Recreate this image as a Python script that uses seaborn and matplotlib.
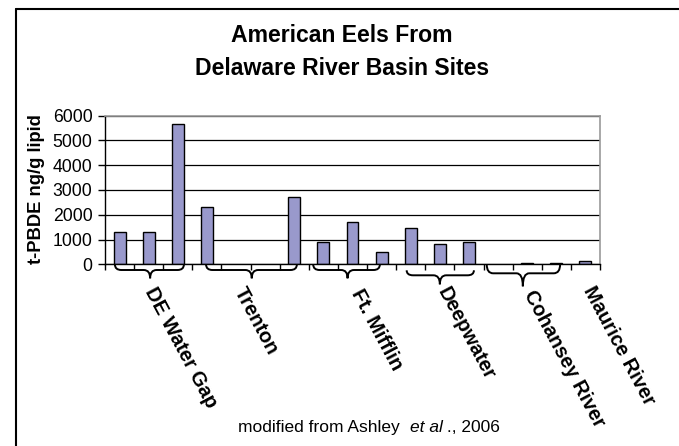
import matplotlib
matplotlib.use("Agg")
import matplotlib.pyplot as plt
import matplotlib.transforms as mtransforms
from matplotlib.path import Path
from matplotlib.patches import PathPatch
from matplotlib.lines import Line2D
import seaborn as sns
import pandas as pd

# ---------------- data ----------------
samples = ["DWG1", "DWG2", "DWG3", "TR1", "TR2", "TR3", "TR4",
           "FM1", "FM2", "FM3", "DW1", "DW2", "DW3",
           "CR1", "CR2", "CR3", "MR1"]
present = ["DWG1", "DWG2", "DWG3", "TR1", "TR4", "FM1", "FM2", "FM3",
           "DW1", "DW2", "DW3", "CR2", "CR3", "MR1"]
values = [1300, 1300, 5650, 2300, 2700, 900, 1700, 480,
          1480, 830, 890, 60, 60, 120]
groups = ["DE Water Gap", "Trenton", "Ft. Mifflin", "Deepwater",
          "Cohansey River", "Maurice River"]
yticks = [0, 1000, 2000, 3000, 4000, 5000, 6000]

title_lines = ["American Eels From", "Delaware River Basin Sites"]
ylabel = "t-PBDE ng/g lipid"

df = pd.DataFrame({"sample": present, "value": values})

# ---------------- style ----------------
sns.set_style("white")
plt.rcParams["font.family"] = ["Liberation Sans", "DejaVu Sans"]
for k in ["text.color", "axes.labelcolor", "xtick.color", "ytick.color"]:
    plt.rcParams[k] = "black"

W, H = 679, 446
fig = plt.figure(figsize=(W / 100, H / 100), dpi=100)
ax_l, ax_r, ax_t, ax_b = 105, 600, 115.7, 264.3
ax = fig.add_axes([ax_l / W, 1 - ax_b / H, (ax_r - ax_l) / W, (ax_b - ax_t) / H])

sns.barplot(data=df, x="sample", y="value", order=samples, color="#9999CC",
            saturation=1, edgecolor="black", linewidth=1.0, width=0.41,
            errorbar=None, ax=ax)

ax.set_xlim(-0.5, len(samples) - 0.5)
ax.set_ylim(yticks[0], yticks[-1])
ax.set_yticks(yticks)
ax.set_yticklabels([str(v) for v in yticks], fontsize=12.7)
ax.set_xticks([i - 0.5 for i in range(len(samples) + 1)])
ax.set_xticklabels([])
ax.set_xlabel("")
ax.set_ylabel("")
ax.tick_params(axis="y", direction="out", length=5, width=1, color="black", pad=4, left=True)
ax.tick_params(axis="x", direction="out", length=4.5, width=1, color="black", bottom=True)
ax.yaxis.grid(True, color="black", linewidth=0.9)
ax.set_axisbelow(True)
for s in ["left", "bottom"]:
    ax.spines[s].set_color("black")
    ax.spines[s].set_linewidth(1.0)
for s in ["top", "right"]:
    ax.spines[s].set_color("#999999")
    ax.spines[s].set_linewidth(1.2)

# ---------------- braces ----------------
axh = ax_b - ax_t
trans = mtransforms.blended_transform_factory(ax.transData, ax.transAxes)

def brace(x0, x1, xt, ytop, ymid, ytip, r=0.22):
    yt, ym, yp = -ytop / axh, -ymid / axh, -ytip / axh
    verts = [(x0, yt), (x0, ym), (x0 + r, ym),
             (xt - r, ym),
             (xt, ym), (xt, yp),
             (xt, ym), (xt + r, ym),
             (x1 - r, ym),
             (x1, ym), (x1, yt)]
    codes = [Path.MOVETO, Path.CURVE3, Path.CURVE3,
             Path.LINETO,
             Path.CURVE3, Path.CURVE3,
             Path.CURVE3, Path.CURVE3,
             Path.LINETO,
             Path.CURVE3, Path.CURVE3]
    p = PathPatch(Path(verts, codes), transform=trans, fill=False,
                  edgecolor="black", linewidth=1.4, clip_on=False)
    ax.add_patch(p)

brace(-0.16, 2.21, 1.05, 0, 5.7, 14)
brace(2.97, 6.09, 4.54, 0, 5.7, 14)
brace(6.65, 8.94, 7.83, 0, 5.7, 14)
brace(9.86, 12.17, 11.0, 6, 11, 20)
brace(12.61, 15.13, 13.85, 0, 9, 22)

# ---------------- group labels ----------------
label_x = [1.32, 4.38, 8.39, 11.36, 14.33, 16.38]
label_y = [284, 284, 286, 284, 287, 283]
for g, lx, ly in zip(groups, label_x, label_y):
    ax.text(lx, -(ly - ax_b) / axh, g, transform=trans, rotation=-62,
            rotation_mode="anchor", ha="left", va="top",
            fontsize=14.5, fontweight="bold", clip_on=False)

# ---------------- title / ylabel ----------------
fig.text(342 / W, 1 - 42.3 / H, title_lines[0], ha="center", va="baseline",
         fontsize=16.6, fontweight="bold")
fig.text(342 / W, 1 - 75 / H, title_lines[1], ha="center", va="baseline",
         fontsize=16.6, fontweight="bold")
fig.text(37 / W, 1 - 189 / H, ylabel, rotation=90, ha="center", va="center",
         fontsize=13.2, fontweight="bold")

# ---------------- footnote ----------------
renderer = fig.canvas.get_renderer()
fx = 238 / W
fy = 1 - 431.7 / H
pieces = [("modified from Ashley  ", "normal"), ("et al", "italic"), (" ., 2006", "normal")]
for txt, st in pieces:
    t = fig.text(fx, fy, txt, ha="left", va="baseline", fontsize=12.5, style=st)
    bb = t.get_window_extent(renderer=renderer)
    fx = bb.x1 / W

# ---------------- figure border ----------------
fig.add_artist(Line2D([16 / W, 16 / W], [0, 1 - 9 / H], color="black", lw=1.5,
                      transform=fig.transFigure))
fig.add_artist(Line2D([16 / W, 1], [1 - 9 / H, 1 - 9 / H], color="black", lw=1.5,
                      transform=fig.transFigure))

fig.savefig("out.png", dpi=100)
